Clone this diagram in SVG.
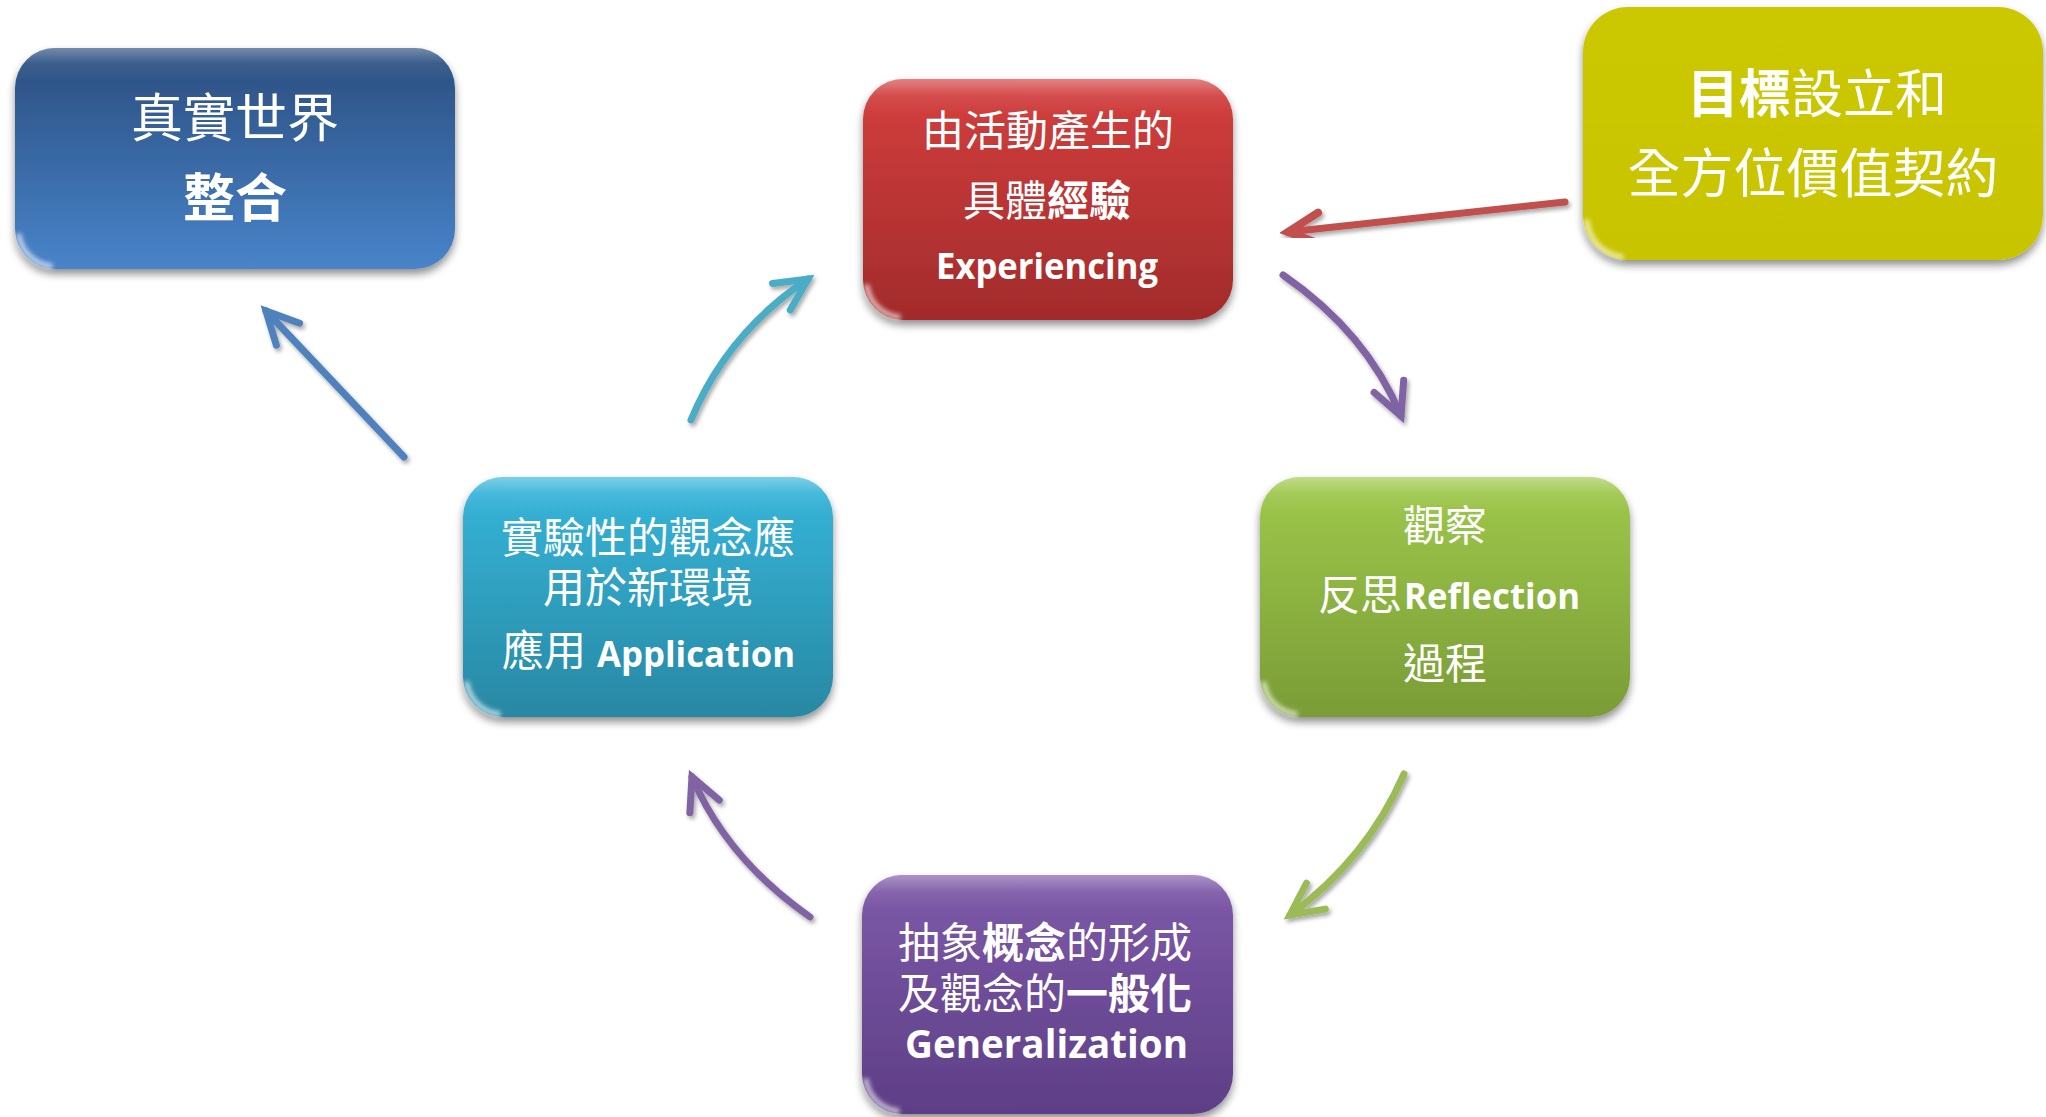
<svg xmlns="http://www.w3.org/2000/svg" width="2046" height="1117" viewBox="0 0 2046 1117">
<defs>
<style>
.cjk{font-family:"Noto Sans CJK TC","Noto Sans CJK SC",sans-serif;fill:#fff;}
.lat{font-family:"Open Sans","Noto Sans",sans-serif;font-weight:700;fill:#fff;}
.b{font-weight:700;}
.box{filter:url(#shadow);}
.gloss{fill:url(#gloss);}
.glint{fill:none;stroke:#fff;stroke-opacity:0.6;stroke-width:6;stroke-linecap:round;filter:url(#soft);}
.conn{fill:none;stroke-width:7;stroke-linecap:round;filter:url(#ashadow);}
</style>
<filter id="shadow" x="-10%" y="-10%" width="120%" height="125%">
<feGaussianBlur in="SourceAlpha" stdDeviation="4"/>
<feOffset dx="0" dy="5" result="o"/>
<feComponentTransfer><feFuncA type="linear" slope="0.45"/></feComponentTransfer>
<feMerge><feMergeNode/><feMergeNode in="SourceGraphic"/></feMerge>
</filter>
<filter id="soft" x="-50%" y="-50%" width="200%" height="200%"><feGaussianBlur stdDeviation="2"/></filter>
<filter id="ashadow" x="-20%" y="-20%" width="140%" height="140%">
<feGaussianBlur in="SourceAlpha" stdDeviation="2"/>
<feOffset dx="2" dy="3" result="o"/>
<feComponentTransfer><feFuncA type="linear" slope="0.35"/></feComponentTransfer>
<feMerge><feMergeNode/><feMergeNode in="SourceGraphic"/></feMerge>
</filter>
<linearGradient id="gBlue" x1="0" y1="0" x2="0" y2="1"><stop offset="0" stop-color="#2a4d7e"/><stop offset="1" stop-color="#4884ca"/></linearGradient>
<linearGradient id="gRed" x1="0" y1="0" x2="0" y2="1"><stop offset="0" stop-color="#d43f3e"/><stop offset="1" stop-color="#a22b2b"/></linearGradient>
<linearGradient id="gYellow" x1="0" y1="0" x2="0" y2="1"><stop offset="0" stop-color="#cbc700"/><stop offset="1" stop-color="#c8c400"/></linearGradient>
<linearGradient id="gCyan" x1="0" y1="0" x2="0" y2="1"><stop offset="0" stop-color="#36b6db"/><stop offset="1" stop-color="#2888a3"/></linearGradient>
<linearGradient id="gGreen" x1="0" y1="0" x2="0" y2="1"><stop offset="0" stop-color="#9fc94b"/><stop offset="1" stop-color="#7a9c36"/></linearGradient>
<linearGradient id="gPurple" x1="0" y1="0" x2="0" y2="1"><stop offset="0" stop-color="#7e5aa9"/><stop offset="1" stop-color="#5e3e86"/></linearGradient>
<linearGradient id="gloss" x1="0" y1="0" x2="0" y2="1"><stop offset="0" stop-color="#fff" stop-opacity="0.35"/><stop offset="0.07" stop-color="#fff" stop-opacity="0.08"/><stop offset="0.15" stop-color="#fff" stop-opacity="0"/></linearGradient>
<marker id="hBlue" markerUnits="userSpaceOnUse" viewBox="-40 -25 48 50" refX="0" refY="0" markerWidth="48" markerHeight="50" orient="auto"><path d="M-32 -16 L0 0 L-32 16" fill="none" stroke="#4f81bd" stroke-width="7" stroke-linecap="round"/></marker>
<marker id="hCyan" markerUnits="userSpaceOnUse" viewBox="-40 -25 48 50" refX="0" refY="0" markerWidth="48" markerHeight="50" orient="auto"><path d="M-32 -16 L0 0 L-32 16" fill="none" stroke="#4bacc6" stroke-width="7" stroke-linecap="round"/></marker>
<marker id="hRed" markerUnits="userSpaceOnUse" viewBox="-40 -25 48 50" refX="0" refY="0" markerWidth="48" markerHeight="50" orient="auto"><path d="M-32 -16 L0 0 L-32 16" fill="none" stroke="#c0504d" stroke-width="8" stroke-linecap="round"/></marker>
<marker id="hPurple" markerUnits="userSpaceOnUse" viewBox="-40 -25 48 50" refX="0" refY="0" markerWidth="48" markerHeight="50" orient="auto"><path d="M-32 -16 L0 0 L-32 16" fill="none" stroke="#8064a2" stroke-width="7" stroke-linecap="round"/></marker>
<marker id="hGreen" markerUnits="userSpaceOnUse" viewBox="-40 -25 48 50" refX="0" refY="0" markerWidth="48" markerHeight="50" orient="auto"><path d="M-32 -16 L0 0 L-32 16" fill="none" stroke="#9bbb59" stroke-width="7" stroke-linecap="round"/></marker>
</defs>
<rect width="2046" height="1117" fill="#fff"/>

<g id="connectors">
<path class="conn" stroke="#4f81bd" d="M404 457 L266 311" marker-end="url(#hBlue)"/>
<path class="conn" stroke="#4bacc6" d="M691 420 Q727 333 808 279" marker-end="url(#hCyan)"/>
<path class="conn" stroke="#c0504d" stroke-width="8" d="M1565 202 L1288 232" marker-end="url(#hRed)"/>
<path class="conn" stroke="#8064a2" d="M1283 275 Q1367 333 1401 416" marker-end="url(#hPurple)"/>
<path class="conn" stroke="#9bbb59" d="M1404 774 Q1367 859 1290 915" marker-end="url(#hGreen)"/>
<path class="conn" stroke="#8064a2" d="M810 917 Q727 859 692 777" marker-end="url(#hPurple)"/>
</g>

<g id="node-integration">
<rect class="box" x="15" y="48" width="440" height="221" rx="40" fill="url(#gBlue)"/>
<rect x="15" y="48" width="440" height="221" rx="40" class="gloss"/>
<path class="glint" d="M19 236 A36 36 0 0 0 50 266"/>
<text class="cjk" x="235" y="137" font-size="52" text-anchor="middle">真實世界</text>
<text class="cjk b" x="235" y="217" font-size="52" text-anchor="middle">整合</text>
</g>

<g id="node-experiencing">
<rect class="box" x="863" y="79" width="370" height="241" rx="40" fill="url(#gRed)"/>
<rect x="863" y="79" width="370" height="241" rx="40" class="gloss"/>
<path class="glint" d="M867 287 A36 36 0 0 0 898 317"/>
<text class="cjk" x="1048" y="146" font-size="42" text-anchor="middle">由活動產生的</text>
<text class="cjk" x="963" y="216" font-size="42">具體<tspan class="b">經驗</tspan></text>
<text class="lat" x="936" y="279" font-size="36" textLength="222" lengthAdjust="spacingAndGlyphs">Experiencing</text>
</g>

<g id="node-goals">
<rect class="box" x="1583" y="7" width="460" height="253" rx="45" fill="url(#gYellow)"/>
<path class="glint" d="M1587 222 A40 40 0 0 0 1621 257" stroke="#ffff60"/>
<text class="cjk" x="1687" y="113" font-size="52"><tspan class="b">目標</tspan>設立和</text>
<text class="cjk" x="1813" y="193" font-size="53" text-anchor="middle">全方位價值契約</text>
</g>

<g id="node-application">
<rect class="box" x="463" y="477" width="370" height="240" rx="40" fill="url(#gCyan)"/>
<rect x="463" y="477" width="370" height="240" rx="40" class="gloss"/>
<path class="glint" d="M467 684 A36 36 0 0 0 498 714"/>
<text class="cjk" x="648" y="553" font-size="42" text-anchor="middle">實驗性的觀念應</text>
<text class="cjk" x="648" y="603" font-size="42" text-anchor="middle">用於新環境</text>
<text class="cjk" x="502" y="666" font-size="42">應用</text>
<text class="lat" x="597" y="667" font-size="35" textLength="198" lengthAdjust="spacingAndGlyphs">Application</text>
</g>

<g id="node-reflection">
<rect class="box" x="1260" y="477" width="370" height="240" rx="40" fill="url(#gGreen)"/>
<rect x="1260" y="477" width="370" height="240" rx="40" class="gloss"/>
<path class="glint" d="M1264 684 A36 36 0 0 0 1295 714"/>
<text class="cjk" x="1445" y="541" font-size="42" text-anchor="middle">觀察</text>
<text class="cjk" x="1318" y="610" font-size="42">反思</text>
<text class="lat" x="1404" y="609" font-size="35" textLength="176" lengthAdjust="spacingAndGlyphs">Reflection</text>
<text class="cjk" x="1445" y="679" font-size="42" text-anchor="middle">過程</text>
</g>

<g id="node-generalization">
<rect class="box" x="862" y="875" width="371" height="239" rx="40" fill="url(#gPurple)"/>
<rect x="862" y="875" width="371" height="239" rx="40" class="gloss"/>
<path class="glint" d="M866 1081 A36 36 0 0 0 897 1111"/>
<text class="cjk" x="898" y="958" font-size="42">抽象<tspan class="b">概念</tspan>的形成</text>
<text class="cjk" x="898" y="1009" font-size="42">及觀念的<tspan class="b">一般化</tspan></text>
<text class="lat" x="905" y="1058" font-size="40" textLength="283" lengthAdjust="spacingAndGlyphs">Generalization</text>
</g>
</svg>
